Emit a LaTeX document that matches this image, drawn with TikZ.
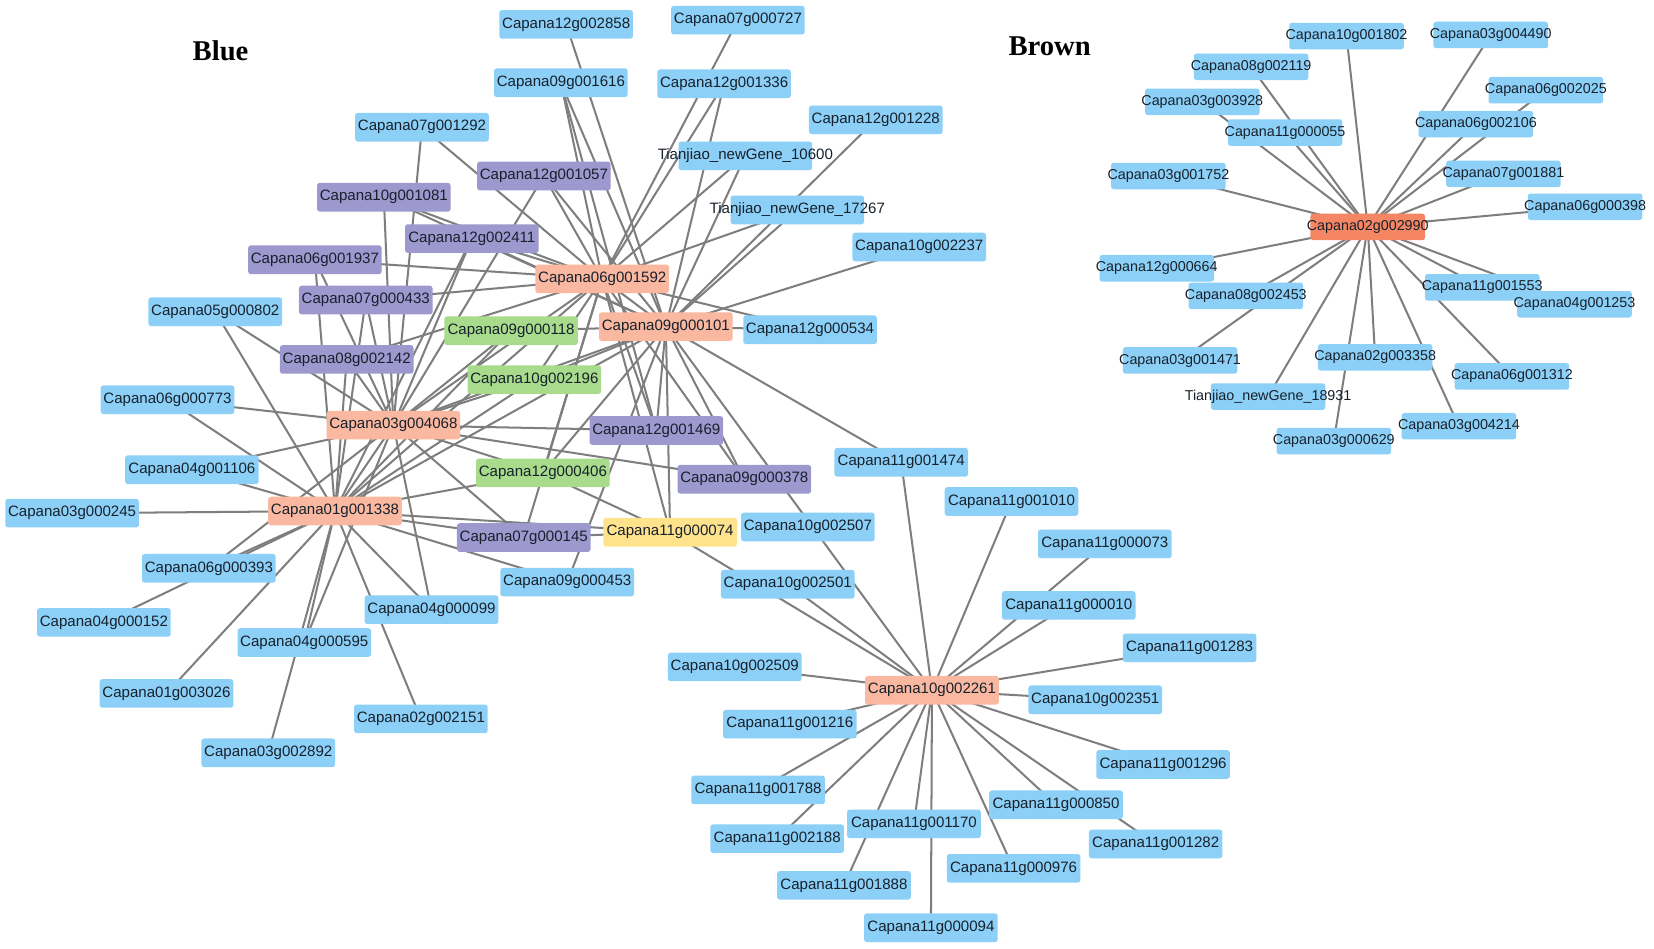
\documentclass[tikz,border=0pt]{standalone}
\usepackage{fontspec}
\setmainfont{Liberation Sans}
\newfontfamily\headfont{Liberation Serif}
\usetikzlibrary{backgrounds}
\definecolor{cblue}{HTML}{8CD0F7}
\definecolor{cpurp}{HTML}{9D98CE}
\definecolor{cgreen}{HTML}{A8DB8C}
\definecolor{cyell}{HTML}{FFE38C}
\definecolor{csalm}{HTML}{FBB8A0}
\definecolor{cbrown}{HTML}{F58664}
\definecolor{cedge}{HTML}{7E7E7E}
\definecolor{ctext}{HTML}{17212C}
\newcommand\fitw[2]{\makebox[#1]{#2}}
\begin{document}
\begin{tikzpicture}[x=1pt,y=-1pt,
 gene/.style={rectangle,rounded corners=2.5pt,minimum width=126pt,minimum height=27pt,inner sep=0pt,text=ctext,font=\fontsize{14.2}{14.2}\selectfont},
 bl/.style={gene,fill=cblue},
 pu/.style={gene,fill=cpurp},
 gr/.style={gene,fill=cgreen},
 ye/.style={gene,fill=cyell},
 sa/.style={gene,fill=csalm},
 sgene/.style={rectangle,rounded corners=2.5pt,minimum width=108pt,minimum height=25pt,inner sep=0pt,text=ctext,font=\fontsize{13.5}{13.5}\selectfont},
 sbl/.style={sgene,fill=cblue},
 sbr/.style={sgene,fill=cbrown},
 edge/.style={draw=cedge,line width=1.9pt},
 head/.style={font=\headfont\bfseries\fontsize{27}{27}\selectfont,text=black}]
\useasboundingbox (0,0) rectangle (1560,895);
% ---------- labels ----------
\node[head] (lblue) at (208,48) {Blue};
\node[head] (lbrown) at (990,44) {Brown};
% ---------- Blue module ----------
\node[bl] (c12g002858) at (534,23) {Capana12g002858};
\node[bl] (c07g000727) at (696,19) {Capana07g000727};
\node[bl] (c09g001616) at (529,78) {Capana09g001616};
\node[bl] (c12g001336) at (683,79) {Capana12g001336};
\node[bl] (c12g001228) at (826,113) {Capana12g001228};
\node[bl] (tj10600) at (703,147) {\fitw{126pt}{Tianjiao\_newGene\_10600}};
\node[bl] (tj17267) at (752,198) {\fitw{126pt}{Tianjiao\_newGene\_17267}};
\node[bl] (c10g002237) at (867,233) {Capana10g002237};
\node[bl] (c07g001292) at (398,120) {Capana07g001292};
\node[bl] (c05g000802) at (203,294) {Capana05g000802};
\node[bl] (c12g000534) at (764,311) {Capana12g000534};
\node[bl] (c06g000773) at (158,377) {Capana06g000773};
\node[bl] (c04g001106) at (181,443) {Capana04g001106};
\node[bl] (c03g000245) at (68,484) {Capana03g000245};
\node[bl] (c06g000393) at (197,536) {Capana06g000393};
\node[bl] (c04g000152) at (98,587) {Capana04g000152};
\node[bl] (c04g000099) at (407,575) {Capana04g000099};
\node[bl] (c04g000595) at (287,606) {Capana04g000595};
\node[bl] (c01g003026) at (157,654) {Capana01g003026};
\node[bl] (c02g002151) at (397,678) {Capana02g002151};
\node[bl] (c03g002892) at (253,710) {Capana03g002892};
\node[bl] (c09g000453) at (535,549) {Capana09g000453};
\node[bl] (c10g002507) at (762,497) {Capana10g002507};
\node[bl] (c10g002501) at (743,551) {Capana10g002501};
\node[bl] (c11g001474) at (850,436) {Capana11g001474};
\node[pu] (c12g001057) at (513,166) {Capana12g001057};
\node[pu] (c10g001081) at (362,186) {Capana10g001081};
\node[pu] (c12g002411) at (445,225) {Capana12g002411};
\node[pu] (c06g001937) at (297,245) {Capana06g001937};
\node[pu] (c07g000433) at (345,283) {Capana07g000433};
\node[pu] (c08g002142) at (327,339) {Capana08g002142};
\node[pu] (c12g001469) at (619,406) {Capana12g001469};
\node[pu] (c09g000378) at (702,452) {Capana09g000378};
\node[pu] (c07g000145) at (494,507) {Capana07g000145};
\node[gr] (c09g000118) at (482,312) {Capana09g000118};
\node[gr] (c10g002196) at (504,358) {Capana10g002196};
\node[gr] (c12g000406) at (512,446) {Capana12g000406};
\node[ye] (c11g000074) at (632,502) {Capana11g000074};
\node[sa] (c06g001592) at (568,263) {Capana06g001592};
\node[sa] (c09g000101) at (628,308) {Capana09g000101};
\node[sa] (c03g004068) at (371,401) {Capana03g004068};
\node[sa] (c01g001338) at (316,482) {Capana01g001338};
% ---------- hub 10g002261 ----------
\node[sa] (c10g002261) at (879,651) {Capana10g002261};
\node[bl] (c11g001010) at (954,473) {Capana11g001010};
\node[bl] (c11g000073) at (1042,513) {Capana11g000073};
\node[bl] (c11g000010) at (1008,571) {Capana11g000010};
\node[bl] (c11g001283) at (1122,611) {Capana11g001283};
\node[bl] (c10g002509) at (693,629) {Capana10g002509};
\node[bl] (c10g002351) at (1033,660) {Capana10g002351};
\node[bl] (c11g001216) at (745,683) {Capana11g001216};
\node[bl] (c11g001296) at (1097,721) {Capana11g001296};
\node[bl] (c11g001788) at (715,745) {Capana11g001788};
\node[bl] (c11g000850) at (996,759) {Capana11g000850};
\node[bl] (c11g001170) at (862,777) {Capana11g001170};
\node[bl] (c11g002188) at (733,791) {Capana11g002188};
\node[bl] (c11g001282) at (1090,796) {Capana11g001282};
\node[bl] (c11g000976) at (956,819) {Capana11g000976};
\node[bl] (c11g001888) at (796,835) {Capana11g001888};
\node[bl] (c11g000094) at (878,875) {Capana11g000094};
% ---------- Brown module ----------
\node[sbr] (c02g002990) at (1290,214) {\fitw{108pt}{Capana02g002990}};
\node[sbl] (c10g001802) at (1270,34) {\fitw{108pt}{Capana10g001802}};
\node[sbl] (c03g004490) at (1406,33) {\fitw{108pt}{Capana03g004490}};
\node[sbl] (c08g002119) at (1180,63) {\fitw{108pt}{Capana08g002119}};
\node[sbl] (c06g002025) at (1458,85) {\fitw{108pt}{Capana06g002025}};
\node[sbl] (c03g003928) at (1134,96) {\fitw{108pt}{Capana03g003928}};
\node[sbl] (c11g000055) at (1212,125) {\fitw{108pt}{Capana11g000055}};
\node[sbl] (c06g002106) at (1392,117) {\fitw{108pt}{Capana06g002106}};
\node[sbl] (c03g001752) at (1102,166) {\fitw{108pt}{Capana03g001752}};
\node[sbl] (c07g001881) at (1418,164) {\fitw{108pt}{Capana07g001881}};
\node[sbl] (c06g000398) at (1495,195) {\fitw{108pt}{Capana06g000398}};
\node[sbl] (c12g000664) at (1091,253) {\fitw{108pt}{Capana12g000664}};
\node[sbl] (c08g002453) at (1175,279) {\fitw{108pt}{Capana08g002453}};
\node[sbl] (c11g001553) at (1398,271) {\fitw{108pt}{Capana11g001553}};
\node[sbl] (c04g001253) at (1485,287) {\fitw{108pt}{Capana04g001253}};
\node[sbl] (c03g001471) at (1113,340) {\fitw{108pt}{Capana03g001471}};
\node[sbl] (c02g003358) at (1297,337) {\fitw{108pt}{Capana02g003358}};
\node[sbl] (c06g001312) at (1426,355) {\fitw{108pt}{Capana06g001312}};
\node[sbl] (tj18931) at (1196,374) {\fitw{108pt}{Tianjiao\_newGene\_18931}};
\node[sbl] (c03g004214) at (1376,402) {\fitw{108pt}{Capana03g004214}};
\node[sbl] (c03g000629) at (1258,416) {\fitw{108pt}{Capana03g000629}};
% ---------- edges ----------
\begin{scope}[on background layer]
\fill[white] (0,0) rectangle (1560,895);
\foreach \u/\v in {
 c12g002858/c09g000101, c07g000727/c06g001592, c09g001616/c06g001592, c09g001616/c09g000101,
 c09g001616/c12g001469, c12g001336/c06g001592, c12g001336/c09g000101, c12g001228/c09g000101,
 tj10600/c06g001592, tj10600/c09g000101, tj17267/c06g001592, tj17267/c09g000101,
 c10g002237/c09g000101, c12g000534/c06g001592, c12g000534/c09g000101,
 c07g001292/c06g001592, c07g001292/c03g004068,
 c12g001057/c06g001592, c12g001057/c09g000101, c12g001057/c03g004068,
 c10g001081/c06g001592, c10g001081/c09g000101, c10g001081/c03g004068,
 c12g002411/c06g001592, c12g002411/c09g000101, c12g002411/c03g004068, c12g002411/c01g001338,
 c06g001937/c06g001592, c06g001937/c03g004068, c06g001937/c01g001338,
 c07g000433/c06g001592, c07g000433/c03g004068, c07g000433/c01g001338,
 c08g002142/c06g001592, c08g002142/c03g004068, c08g002142/c01g001338,
 c12g001469/c06g001592, c12g001469/c09g000101, c12g001469/c03g004068,
 c09g000378/c06g001592, c09g000378/c09g000101, c09g000378/c03g004068,
 c07g000145/c03g004068, c07g000145/c01g001338, c07g000145/c06g001592,
 c09g000118/c09g000101, c09g000118/c03g004068, c09g000118/c01g001338,
 c10g002196/c06g001592, c10g002196/c09g000101, c10g002196/c03g004068, c10g002196/c01g001338,
 c12g000406/c06g001592, c12g000406/c09g000101, c12g000406/c03g004068, c12g000406/c01g001338,
 c11g000074/c06g001592, c11g000074/c09g000101, c11g000074/c01g001338,
 c11g000074/c12g000406, c11g000074/c07g000145,
 c06g001592/c09g000101, c06g001592/c03g004068, c06g001592/c01g001338,
 c09g000101/c03g004068, c09g000101/c01g001338, c03g004068/c01g001338,
 c05g000802/c03g004068, c05g000802/c01g001338, c06g000773/c03g004068, c06g000773/c01g001338,
 c04g001106/c03g004068, c04g001106/c01g001338, c03g000245/c01g001338,
 c06g000393/c03g004068, c06g000393/c01g001338, c04g000152/c01g001338,
 c01g003026/c01g001338, c03g002892/c01g001338, c04g000595/c03g004068, c04g000595/c01g001338,
 c04g000099/c03g004068, c04g000099/c01g001338, c02g002151/c01g001338,
 c09g000453/c01g001338, c09g000453/c09g000101,
 c11g001474/c09g000101, c11g001474/c10g002261, c09g000101/c10g002261,
 c10g002501/c10g002261, c11g000074/c10g002261,
 c11g001010/c10g002261, c11g000073/c10g002261, c11g000010/c10g002261, c11g001283/c10g002261,
 c10g002509/c10g002261, c10g002351/c10g002261, c11g001216/c10g002261, c11g001296/c10g002261,
 c11g001788/c10g002261, c11g000850/c10g002261, c11g001170/c10g002261, c11g002188/c10g002261,
 c11g001282/c10g002261, c11g000976/c10g002261, c11g001888/c10g002261, c11g000094/c10g002261,
 c10g001802/c02g002990, c03g004490/c02g002990, c08g002119/c02g002990, c06g002025/c02g002990,
 c03g003928/c02g002990, c11g000055/c02g002990, c06g002106/c02g002990, c03g001752/c02g002990,
 c07g001881/c02g002990, c06g000398/c02g002990, c12g000664/c02g002990, c08g002453/c02g002990,
 c11g001553/c02g002990, c04g001253/c02g002990, c03g001471/c02g002990, c02g003358/c02g002990,
 c06g001312/c02g002990, tj18931/c02g002990, c03g004214/c02g002990, c03g000629/c02g002990}
 \draw[edge] (\u.center) -- (\v.center);
\end{scope}
\end{tikzpicture}
\end{document}
